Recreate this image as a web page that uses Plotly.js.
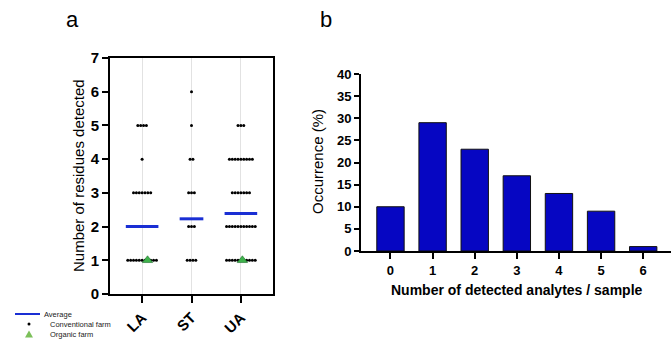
<!DOCTYPE html>
<html><head><meta charset="utf-8">
<script src="https://cdn.plot.ly/plotly-3.0.1.min.js"></script>
<style>html,body{margin:0;padding:0;background:#fff}#chart{width:672px;height:348px}</style>
</head><body><div id="chart"></div>
<script>
// ---- Panel a data ----
const sites = ["LA", "ST", "UA"];
const residueLevels = [1, 2, 3, 4, 5, 6];
const conventionalCountsLA = [11, 7, 7, 1, 4, 0];
const conventionalCountsST = [4, 3, 3, 2, 1, 1];
const conventionalCountsUA = [11, 11, 7, 9, 3, 0];
const organicSites = ["LA", "UA"];
const organicResidues = [1, 1];
const averageResidues = [2.0, 2.23, 2.39];
// ---- Panel b data ----
const analyteCounts = [0, 1, 2, 3, 4, 5, 6];
const occurrencePct = [10, 29, 23, 17, 13, 9, 1];

// ---- layout constants ----
const W = 672, H = 348;
const px = x => x / W, py = y => 1 - y / H;
const dotStep = 0.058;
const avgHalfWidth = [0.33, 0.24, 0.33];
const organicOffset = {LA: 0.11, UA: 0.03};
const FONT = "Arial, 'Liberation Sans', sans-serif";

const countsBySite = [conventionalCountsLA, conventionalCountsST, conventionalCountsUA];
const dotX = [], dotY = [];
countsBySite.forEach((counts, i) => {
  residueLevels.forEach((lvl, j) => {
    const n = counts[j];
    for (let k = 0; k < n; k++) {
      dotX.push(i + (k - (n - 1) / 2) * dotStep);
      dotY.push(lvl);
    }
  });
});
const avgX = [], avgY = [];
averageResidues.forEach((v, i) => {
  avgX.push(i - avgHalfWidth[i], i + avgHalfWidth[i], null);
  avgY.push(v, v, null);
});
const orgX = organicSites.map(s => sites.indexOf(s) + organicOffset[s]);

const traces = [
  {type: "scatter", mode: "markers", x: dotX, y: dotY, xaxis: "x", yaxis: "y",
   marker: {color: "#000", size: 3}, name: "Conventional farm", showlegend: false},
  {type: "scatter", mode: "lines", x: avgX, y: avgY, xaxis: "x", yaxis: "y",
   line: {color: "#1a2fd4", width: 3}, name: "Average", showlegend: false, connectgaps: false},
  {type: "scatter", mode: "markers", x: orgX, y: organicResidues, xaxis: "x", yaxis: "y",
   marker: {symbol: "triangle-up", color: "#3fb24c", size: 9, line: {color: "#1d6e2a", width: 0.6}},
   name: "Organic farm", showlegend: false},
  {type: "bar", x: analyteCounts, y: occurrencePct, xaxis: "x2", yaxis: "y2", width: 0.65,
   marker: {color: "#0606c2", line: {color: "#111", width: 1}}, showlegend: false}
];

const tickBold = size => ({family: FONT, size: size, color: "#000", weight: "bold"});
const ann = (text, x, y, font, extra) => Object.assign({text, xref: "paper", yref: "paper",
  x: px(x), y: py(y), xanchor: "center", yanchor: "middle", showarrow: false, font}, extra || {});

const layout = {
  width: W, height: H, margin: {l: 0, r: 0, t: 0, b: 0},
  paper_bgcolor: "#fff", plot_bgcolor: "#fff",
  font: {family: FONT, color: "#000"},
  showlegend: false,
  xaxis: {domain: [px(110), px(273)], range: [-0.65, 2.65], tickvals: [0, 1, 2], ticktext: sites,
    tickangle: -45, ticks: "outside", ticklen: 7, tickwidth: 2, tickcolor: "#000",
    showline: true, linewidth: 2, linecolor: "#000", mirror: true,
    showgrid: true, gridcolor: "#e2e2e2", gridwidth: 1, zeroline: false, tickfont: tickBold(15), anchor: "y"},
  yaxis: {domain: [py(294), py(58)], range: [0, 7], dtick: 1, ticks: "outside", ticklen: 6, tickwidth: 2,
    tickcolor: "#000", showline: true, linewidth: 2, linecolor: "#000", mirror: true,
    showgrid: false, zeroline: false, tickfont: tickBold(15), anchor: "x"},
  xaxis2: {domain: [px(361), px(671)], range: [-0.7, 6.66], tickvals: analyteCounts, ticks: "outside",
    ticklen: 6, tickwidth: 2, tickcolor: "#000", showline: true, linewidth: 2, linecolor: "#000",
    showgrid: false, zeroline: false, tickfont: tickBold(13), anchor: "y2"},
  yaxis2: {domain: [py(251), py(74)], range: [0, 40], dtick: 5, ticks: "outside", ticklen: 5, tickwidth: 2,
    tickcolor: "#000", showline: true, linewidth: 2, linecolor: "#000",
    showgrid: false, zeroline: false, tickfont: tickBold(13), anchor: "x2"},
  annotations: [
    ann("a", 72, 19, {size: 22}),
    ann("b", 326, 19, {size: 22}),
    ann("Number of residues detected", 78, 176, {size: 15}, {textangle: -90}),
    ann("Occurrence (%)", 318, 162, {size: 15}, {textangle: -90}),
    ann("Number of detected analytes / sample", 517, 290, {size: 14, weight: "bold"}),
    ann("Average", 42, 314, {size: 7.5, color: "#222"}, {xanchor: "left"}),
    ann("Conventional farm", 48, 324, {size: 7.5, color: "#222"}, {xanchor: "left"}),
    ann("Organic farm", 48, 334, {size: 7.5, color: "#222"}, {xanchor: "left"})
  ],
  shapes: [
    {type: "line", xref: "paper", yref: "paper", x0: px(15), x1: px(40), y0: py(314), y1: py(314),
     line: {color: "#1a2fd4", width: 2}},
    {type: "circle", xref: "paper", yref: "paper", x0: px(27.5), x1: px(30.5), y0: py(325.5), y1: py(322.5),
     fillcolor: "#000", line: {width: 0}},
    {type: "path", xref: "paper", yref: "paper",
     path: `M ${px(25)},${py(337.5)} L ${px(33)},${py(337.5)} L ${px(29)},${py(330.5)} Z`,
     fillcolor: "#7cc05a", line: {width: 0}}
  ]
};

Plotly.newPlot("chart", traces, layout, {staticPlot: true, displayModeBar: false});
</script>
</body></html>
